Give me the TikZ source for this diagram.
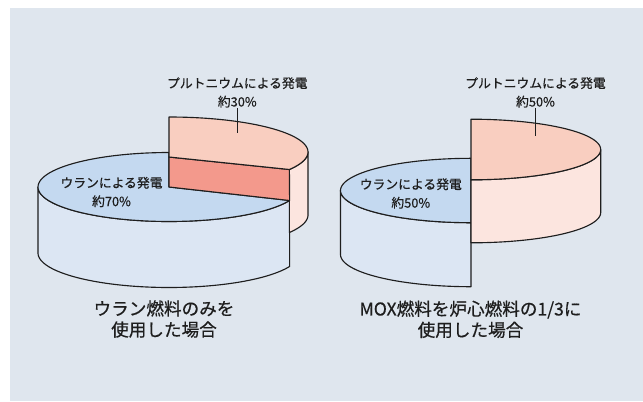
\documentclass[tikz,border=0pt]{standalone}
\usepackage{fontspec}
\setmainfont{Noto Sans CJK JP}[FakeBold=0.5]
\definecolor{panel}{RGB}{223,230,238}
\definecolor{btop}{RGB}{196,217,240}
\definecolor{bside}{RGB}{220,230,243}
\definecolor{ptop}{RGB}{249,206,192}
\definecolor{pside}{RGB}{252,229,223}
\definecolor{pcut}{RGB}{243,153,140}
\definecolor{ink}{RGB}{30,30,30}
\begin{document}
\begin{tikzpicture}[x=0.75pt,y=-0.75pt,
  face/.style={draw=ink,line width=0.85pt,line join=round},
  lbl/.style={font=\fontsize{9.6}{13.9}\selectfont,align=center,inner sep=0pt,text=ink},
  captext/.style={font=\fontsize{13.2}{15.8}\selectfont,align=center,inner sep=0pt,text=ink},
  callout/.style={draw=ink,line width=0.7pt}]
\useasboundingbox (0,0) rectangle (643,401);
\fill[white] (0,0) rectangle (643,401);
\fill[panel] (10,8) rectangle (643,401);
% ---------- left pie ----------
% blue side
\filldraw[face,fill=bside] plot[domain=23:180,samples=60] ({169+131*cos(\x)},{187+34.5*sin(\x)})
  -- plot[domain=180:23,samples=60] ({169+131*cos(\x)},{253+34.5*sin(\x)}) -- cycle;
% blue top
\filldraw[face,fill=btop] (169,187) -- plot[domain=23:270,samples=80] ({169+131*cos(\x)},{187+34.5*sin(\x)}) -- cycle;
% pink outer side
\filldraw[face,fill=pside] plot[domain=0:30,samples=20] ({169+139*cos(\x)},{152+35*sin(\x)})
  -- plot[domain=30:0,samples=20] ({169+139*cos(\x)},{215+35*sin(\x)}) -- cycle;
% pink cut face
\filldraw[face,fill=pcut] (169,157) -- (289.4,169.5) -- (289.6,200.5) -- (169,187) -- cycle;
% pink top
\filldraw[face,fill=ptop] (169,157) -- plot[domain=-90:30,samples=60] ({169+139*cos(\x)},{152+35*sin(\x)}) -- cycle;
% ---------- right pie ----------
\filldraw[face,fill=bside] plot[domain=90:180,samples=50] ({471+130.5*cos(\x)},{190.5+32.2*sin(\x)})
  -- plot[domain=180:90,samples=50] ({471+130.5*cos(\x)},{254.5+32.2*sin(\x)}) -- cycle;
\filldraw[face,fill=btop] plot[domain=90:270,samples=80] ({471+130.5*cos(\x)},{190.5+32.2*sin(\x)}) -- cycle;
\filldraw[face,fill=pside] plot[domain=0:90,samples=50] ({471+129.7*cos(\x)},{149.5+30.3*sin(\x)})
  -- plot[domain=90:0,samples=50] ({471+129.7*cos(\x)},{212.5+30.3*sin(\x)}) -- cycle;
\filldraw[face,fill=ptop] plot[domain=-90:90,samples=80] ({471+129.7*cos(\x)},{149.5+30.3*sin(\x)}) -- cycle;
% ---------- labels ----------
\node[lbl] (pL) at (237.3,92.4) {プルトニウムによる発電\\約30\%};
\node[lbl] (uL) at (111.5,192) {ウランによる発電\\約70\%};
\node[lbl] (pR) at (535.5,92.4) {プルトニウムによる発電\\約50\%};
\node[lbl] (uR) at (410.8,193.5) {ウランによる発電\\約50\%};
\node[captext] (cL) at (164,319) {ウラン燃料のみを\\使用した場合};
\node[captext] (cR) at (470.5,319.3) {MOX燃料を炉心燃料の1/3に\\使用した場合};
% callouts
\path (0,133) coordinate (yL) (0,136) coordinate (yR);
\coordinate (tL) at (pL.south |- yL);
\coordinate (tR) at (pR.south |- yR);
\draw[callout] (pL.south) -- (tL);
\draw[callout] (pR.south) -- (tR);
\end{tikzpicture}
\end{document}
